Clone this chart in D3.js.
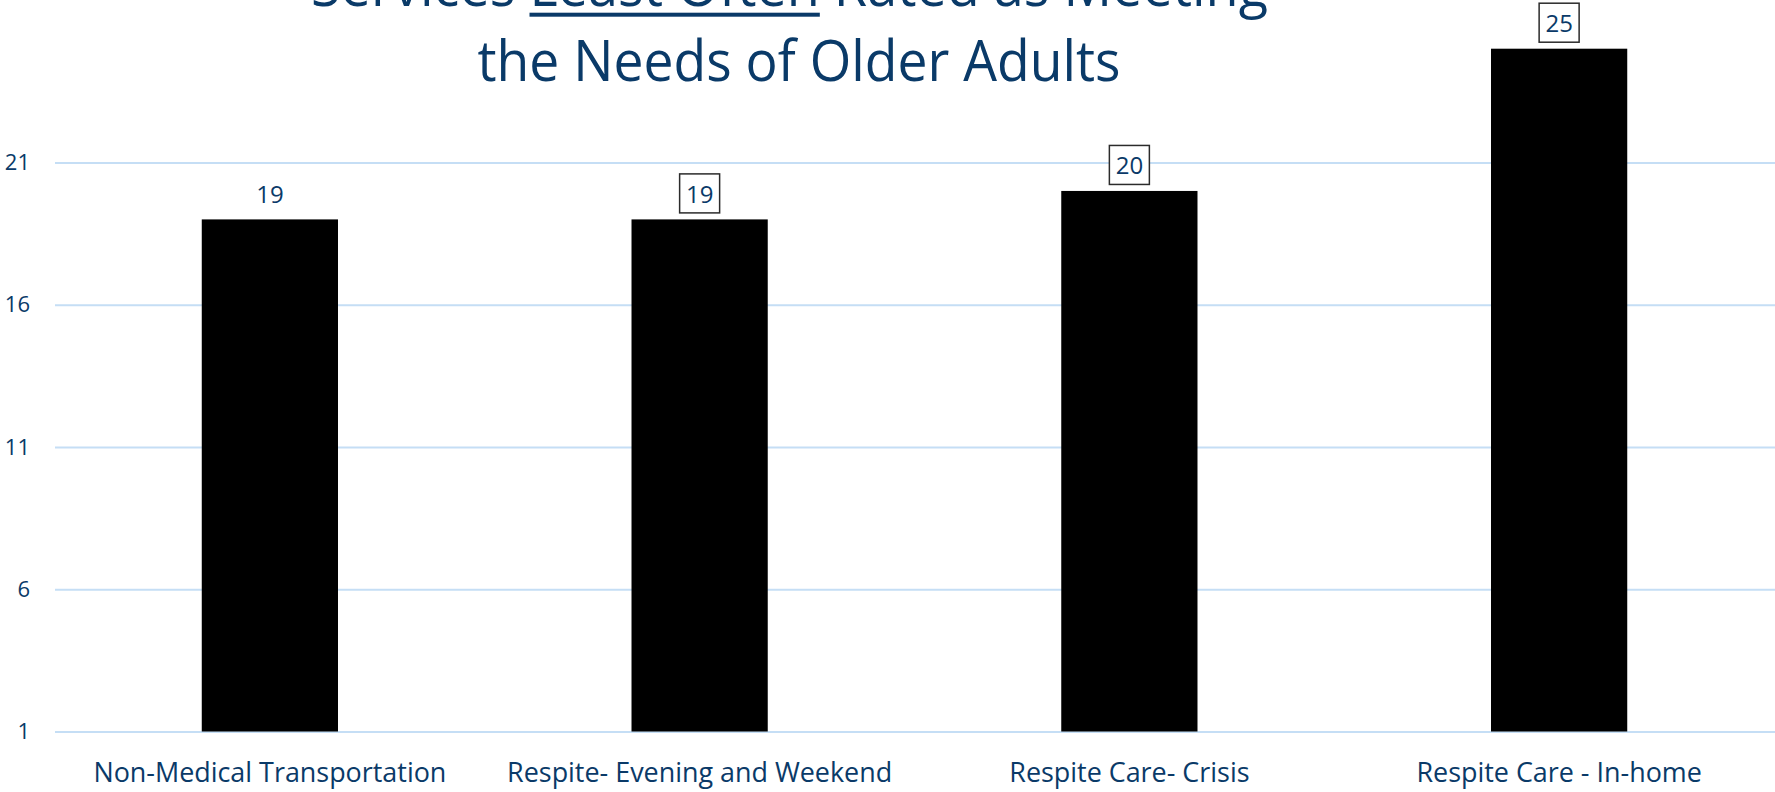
<!DOCTYPE html>
<html>
<head>
<meta charset="utf-8">
<script src="https://cdn.jsdelivr.net/npm/d3@7"></script>
<style>
  html, body { margin: 0; padding: 0; background: #ffffff; }
  svg { display: block; }
  text { font-family: "Open Sans", "Noto Sans", sans-serif; fill: #0a3a68; }
</style>
</head>
<body>
<svg id="chart" width="1775" height="792"></svg>
<script>
// Services least often rated as meeting the needs of older adults
const categories = [
  "Non-Medical Transportation",
  "Respite- Evening and Weekend",
  "Respite Care- Crisis",
  "Respite Care - In-home"
];
const counts = [19, 19, 20, 25];
const yTicks = [1, 6, 11, 16, 21];
const labelBoxed = [false, true, true, true];
const titleLine1 = ["Services ", "Least Often", " Rated as Meeting"];
const titleLine2 = "the Needs of Older Adults";

const W = 1775, H = 792;
const left = 55, right = 1774, bottom = 731.5;
const ink = "#0a3a68";

const svg = d3.select("#chart");

const x = d3.scaleBand()
  .domain(categories)
  .range([left, right])
  .paddingInner(0.683)
  .paddingOuter(0.3415);

const y = d3.scaleLinear()
  .domain([1, 21])
  .range([bottom, 162.5]);

// Horizontal gridlines with value labels on the left
const yAxis = svg.append("g")
  .attr("transform", `translate(${left},0)`)
  .call(d3.axisLeft(y)
    .tickValues(yTicks)
    .tickFormat(d3.format("d"))
    .tickSize(-(W - left))
    .tickPadding(25));
yAxis.select(".domain").remove();
yAxis.selectAll(".tick line")
  .attr("stroke", "#c5def5")
  .attr("stroke-width", 2);
yAxis.selectAll(".tick text")
  .attr("font-size", 22)
  .attr("fill", ink)
  .style("font-family", "'Open Sans', sans-serif");

// Bars
svg.append("g").selectAll("rect")
  .data(categories)
  .join("rect")
  .attr("x", d => x(d))
  .attr("width", x.bandwidth())
  .attr("y", (d, i) => y(counts[i]))
  .attr("height", (d, i) => y(1) - y(counts[i]))
  .attr("fill", "#000000");

// Category labels
const xAxis = svg.append("g")
  .attr("transform", `translate(0,${bottom})`)
  .call(d3.axisBottom(x).tickSize(0).tickPadding(0));
xAxis.select(".domain").remove();
const xLabels = xAxis.selectAll(".tick text")
  .attr("y", 50.2)
  .attr("dy", 0)
  .attr("font-size", 28)
  .attr("fill", ink)
  .style("font-family", "'Open Sans', sans-serif");

// Condense a group of labels so the first one spans the given width
function condense(sel, targetWidth) {
  const nodes = sel.nodes();
  const k = targetWidth / nodes[0].getComputedTextLength();
  sel.each(function () {
    const w = this.getComputedTextLength();
    d3.select(this).attr("textLength", w * k).attr("lengthAdjust", "spacingAndGlyphs");
  });
}
condense(xLabels, 353);

// Value labels, some framed
const vals = svg.append("g").selectAll("g")
  .data(categories)
  .join("g")
  .attr("transform", (d, i) => `translate(${x(d) + x.bandwidth() / 2},${y(counts[i])})`);

vals.filter((d, i) => labelBoxed[i])
  .append("rect")
  .attr("x", -20)
  .attr("y", -45.5)
  .attr("width", 40)
  .attr("height", 39)
  .attr("fill", "#ffffff")
  .attr("stroke", "#2b2b2b")
  .attr("stroke-width", 1.5);

vals.append("text")
  .attr("text-anchor", "middle")
  .attr("y", -16.5)
  .attr("font-size", 24)
  .attr("fill", ink)
  .text((d, i) => counts[i]);

// Title (first line runs off the top edge)
const title = svg.append("g");
const t1 = title.append("text")
  .attr("x", 789.5)
  .attr("y", 6)
  .attr("text-anchor", "middle")
  .attr("font-size", 57)
  .attr("fill", ink);
t1.selectAll("tspan")
  .data(titleLine1)
  .join("tspan")
  .text(d => d);

const t2 = title.append("text")
  .attr("x", 799)
  .attr("y", 81)
  .attr("text-anchor", "middle")
  .attr("font-size", 57)
  .attr("fill", ink)
  .text(titleLine2);

t1.attr("textLength", 957).attr("lengthAdjust", "spacingAndGlyphs");
t2.attr("textLength", 643).attr("lengthAdjust", "spacingAndGlyphs");

// Underline beneath the emphasised words
const n1 = t1.node();
const startIdx = titleLine1[0].length;
const endIdx = startIdx + titleLine1[1].length - 1;
const ux0 = n1.getStartPositionOfChar(startIdx).x;
const ux1 = n1.getEndPositionOfChar(endIdx).x;
title.append("rect")
  .attr("x", ux0)
  .attr("y", 12.7)
  .attr("width", ux1 - ux0)
  .attr("height", 4)
  .attr("fill", ink);
</script>
</body>
</html>
